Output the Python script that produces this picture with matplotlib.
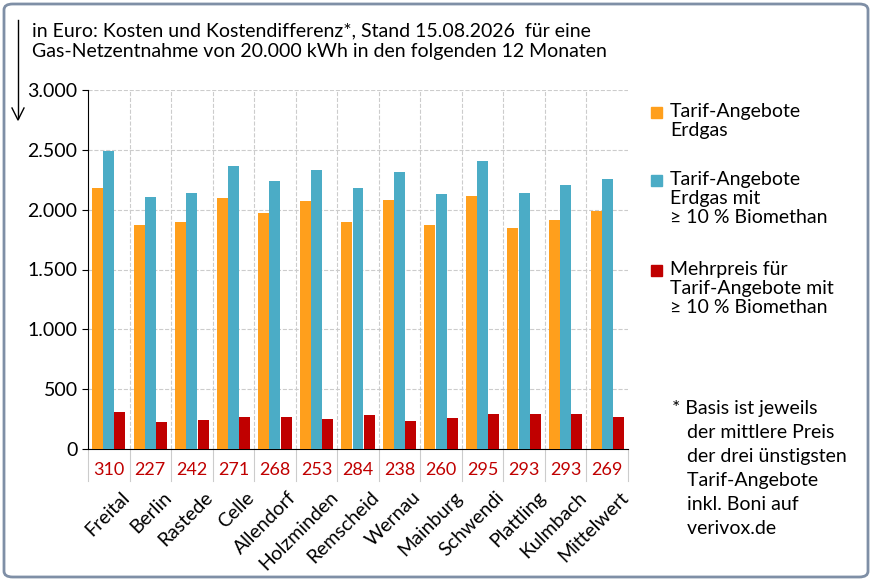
import matplotlib.pyplot as plt
import numpy as np
from matplotlib.patches import FancyBboxPatch

plt.rcParams['font.family'] = ['Lato', 'DejaVu Sans']

cities = ['Freital', 'Berlin', 'Rastede', 'Celle', 'Allendorf', 'Holzminden', 'Remscheid',
          'Wernau', 'Mainburg', 'Schwendi', 'Plattling', 'Kulmbach', 'Mittelwert']
erdgas = [2180, 1875, 1895, 2095, 1970, 2075, 1895, 2080, 1875, 2115, 1845, 1910, 1990]
biomethan = [2490, 2102, 2137, 2366, 2238, 2328, 2179, 2318, 2135, 2410, 2138, 2203, 2259]
mehrpreis = [310, 227, 242, 271, 268, 253, 284, 238, 260, 295, 293, 293, 269]

orange = '#FF9F1C'
blue = '#4BACC6'
red = '#C00000'

fig = plt.figure(figsize=(8.72, 5.81), dpi=100)
ax = fig.add_axes([88 / 872, 1 - 449 / 581, 540 / 872, 359 / 581])

x = np.arange(len(cities))
w = 0.27
ax.bar(x - w, erdgas, w * 0.98, color=orange, zorder=3)
ax.bar(x, biomethan, w * 0.98, color=blue, zorder=3)
ax.bar(x + w, mehrpreis, w * 0.98, color=red, zorder=3)

ax.set_xlim(-0.5, len(cities) - 0.5)
ax.set_ylim(0, 3000)
ax.set_yticks(np.arange(0, 3001, 500))
ax.set_yticklabels([f'{v:,}'.replace(',', '.') for v in range(0, 3001, 500)], fontsize=14)
ax.set_xticks(x)
ax.set_xticklabels([])
ax.tick_params(axis='x', length=0)
ax.tick_params(axis='y', length=4)
for xv in np.arange(0.5, len(cities) - 0.5, 1):
    ax.axvline(xv, color='#cccccc', ls='--', lw=0.8, zorder=0)
ax.grid(axis='y', color='#cccccc', ls='--', lw=0.8, zorder=0)
for s in ['top', 'right']:
    ax.spines[s].set_visible(False)

# Mehrpreis row and city labels below axis
for i, (c, m) in enumerate(zip(cities, mehrpreis)):
    ax.text(i, -0.035, str(m), transform=ax.get_xaxis_transform(), ha='center', va='top',
            color=red, fontsize=13)
    ax.text(i + 0.3, -0.11, c, transform=ax.get_xaxis_transform(), ha='right', va='top',
            rotation=45, rotation_mode='anchor', fontsize=14)
for xv in np.arange(-0.5, len(cities), 1):
    ax.plot([xv, xv], [0, -0.09], transform=ax.get_xaxis_transform(), color='#cccccc',
            lw=0.8, clip_on=False)

fig.text(32 / 872, 1 - 22 / 581,
         'in Euro: Kosten und Kostendifferenz*, Stand 15.08.2026  für eine\n'
         'Gas-Netzentnahme von 20.000 kWh in den folgenden 12 Monaten',
         fontsize=14, va='top', ha='left', linespacing=1.3)
fig.add_artist(plt.Line2D([18 / 872, 18 / 872], [1 - 20 / 581, 1 - 118 / 581], color='black', lw=1))
fig.add_artist(plt.Line2D([12 / 872, 18 / 872, 24 / 872], [1 - 108 / 581, 1 - 120 / 581, 1 - 108 / 581],
                          color='black', lw=1))

legend = [(orange, 'Tarif-Angebote\nErdgas', 112),
          (blue, 'Tarif-Angebote\nErdgas mit\n≥ 10 % Biomethan', 180),
          (red, 'Mehrpreis für\nTarif-Angebote mit\n≥ 10 % Biomethan', 270)]
for col, txt, yp in legend:
    fig.patches.append(plt.Rectangle((651 / 872, 1 - (yp + 6) / 581), 11 / 872, 11 / 581,
                                     color=col, transform=fig.transFigure))
    fig.text(670 / 872, 1 - (yp - 9) / 581, txt, fontsize=14, va='top', ha='left', linespacing=1.15)

fig.text(672 / 872, 1 - 400 / 581,
         '* Basis ist jeweils\n   der mittlere Preis\n   der drei ünstigsten\n   Tarif-Angebote\n'
         '   inkl. Boni auf\n   verivox.de',
         fontsize=14, va='top', ha='left', linespacing=1.5)

fig.patches.append(FancyBboxPatch((4 / 872, 4 / 581), 864 / 872, 573 / 581,
                                  boxstyle='round,pad=0,rounding_size=0.01', fill=False,
                                  edgecolor='#7f8fa6', lw=2, transform=fig.transFigure))

fig.savefig('out.png', dpi=100)
